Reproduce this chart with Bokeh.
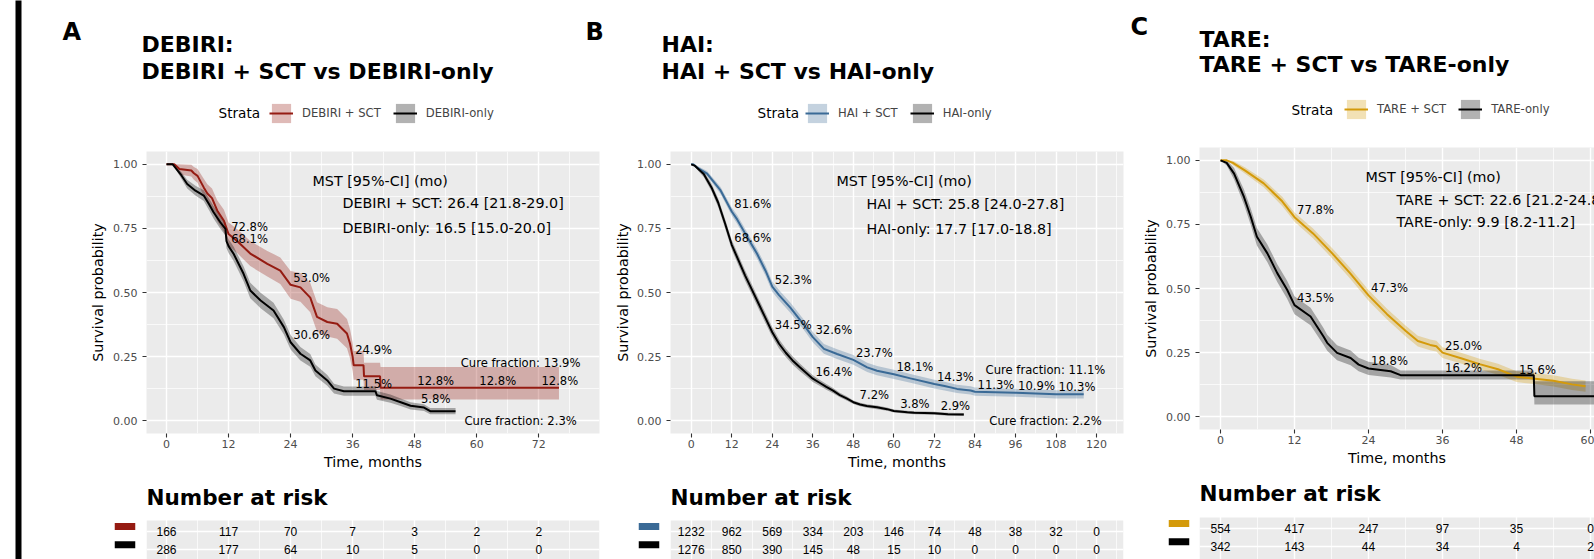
from bokeh.plotting import figure
from bokeh.layouts import row, column
from bokeh.models import (Range1d, FixedTicker, Label, Legend, LegendItem, BoxAnnotation,
                          ColumnDataSource, Grid, NumeralTickFormatter)
from bokeh.embed import file_html
from bokeh.resources import INLINE
from bokeh.core.properties import value

FONT = "DejaVu Sans"
TFONT = "Liberation Sans"
PANEL_BG = "#EBEBEB"
RED = "#951B12"
BLUE = "#3A6A96"
GOLD = "#D49A0A"
BLACK = "#000000"
PAGE_H = 559
HEAD_H = 140

Y_TICKS = [0.0, 0.25, 0.5, 0.75, 1.0]
Y_MINOR = [0.125, 0.375, 0.625, 0.875]

# ---------------- Panel A : DEBIRI ----------------
A_sct_t = [0, 1.5, 2.5, 4.8, 5.3, 6.0, 7.2, 7.9, 8.8, 9.8, 11.1, 12.0, 13.7, 16.2, 19.5, 22.0, 24.0, 25.9,
           27.8, 29.1, 31.1, 33.0, 34.9, 35.5, 36.0, 36.2, 38.1, 38.2, 41.3, 41.4, 75.9]
A_sct_s = [1.0, 1.0, 0.982, 0.976, 0.965, 0.955, 0.91, 0.886, 0.868, 0.82, 0.78, 0.728, 0.70, 0.652, 0.612,
           0.585, 0.53, 0.52, 0.48, 0.405, 0.385, 0.378, 0.34, 0.30, 0.249, 0.216, 0.216, 0.173, 0.173, 0.128, 0.128]
A_sct_lo = [1.0, 1.0, 0.96, 0.952, 0.94, 0.928, 0.876, 0.85, 0.83, 0.78, 0.737, 0.683, 0.653, 0.603, 0.562,
            0.533, 0.476, 0.464, 0.423, 0.348, 0.328, 0.32, 0.283, 0.243, 0.193, 0.16, 0.16, 0.12, 0.12, 0.083, 0.083]
A_sct_hi = [1.0, 1.0, 1.0, 0.998, 0.99, 0.982, 0.944, 0.922, 0.906, 0.86, 0.823, 0.773, 0.747, 0.701, 0.662,
            0.637, 0.584, 0.576, 0.537, 0.462, 0.442, 0.436, 0.397, 0.357, 0.305, 0.272, 0.272, 0.226, 0.226, 0.209, 0.209]
A_only_t = [0, 1.2, 2.7, 4.0, 5.6, 7.2, 8.2, 9.1, 10.4, 11.4, 11.6, 12.0, 13.0, 14.9, 16.2, 18.2, 20.7, 22.7,
            24.0, 25.9, 27.8, 28.8, 31.1, 32.4, 34.3, 40.4, 40.7, 43.3, 45.3, 47.2, 49.8, 51.0, 55.9]
A_only_s = [1.0, 1.0, 0.962, 0.923, 0.897, 0.878, 0.845, 0.813, 0.774, 0.748, 0.70, 0.681, 0.65, 0.573, 0.508,
            0.469, 0.43, 0.365, 0.306, 0.261, 0.235, 0.196, 0.157, 0.125, 0.115, 0.115, 0.099, 0.086, 0.072,
            0.058, 0.051, 0.037, 0.037]
A_only_lo = [1.0, 1.0, 0.95, 0.906, 0.878, 0.857, 0.822, 0.789, 0.749, 0.722, 0.673, 0.654, 0.622, 0.544, 0.478,
             0.439, 0.40, 0.336, 0.278, 0.235, 0.21, 0.173, 0.136, 0.106, 0.097, 0.097, 0.082, 0.07, 0.057,
             0.044, 0.038, 0.025, 0.025]
A_only_hi = [1.0, 1.0, 0.974, 0.94, 0.916, 0.899, 0.868, 0.837, 0.799, 0.774, 0.727, 0.708, 0.678, 0.602, 0.538,
             0.499, 0.46, 0.394, 0.334, 0.287, 0.26, 0.219, 0.178, 0.144, 0.133, 0.133, 0.116, 0.102, 0.087,
             0.072, 0.064, 0.049, 0.049]
A_lab_sct_t = [12, 24, 36, 48, 60, 72]
A_lab_sct_v = [0.728, 0.530, 0.249, 0.128, 0.128, 0.128]
A_lab_only_t = [12, 24, 36, 48]
A_lab_only_v = [0.681, 0.306, 0.115, 0.058]
A_cure = [0.139, 0.023]
A_risk_t = [0, 12, 24, 36, 48, 60, 72]
A_risk_sct = [166, 117, 70, 7, 3, 2, 2]
A_risk_only = [286, 177, 64, 10, 5, 0, 0]
A_mst = ["MST [95%-CI] (mo)", "DEBIRI + SCT: 26.4 [21.8-29.0]", "DEBIRI-only: 16.5 [15.0-20.0]"]

# ---------------- Panel B : HAI ----------------
B_sct_t = [0, 0.6, 2.0, 4.7, 8.7, 12.0, 13.6, 16.6, 19.5, 22.0, 24.0, 26.0, 29.4, 33.3, 36.0, 39.3, 43.2, 48.0,
           52.1, 55.0, 60.0, 64.9, 72.0, 75.0, 78.7, 82.7, 84.0, 90.0, 96.0, 102.0, 108.0, 116.2]
B_sct_s = [1.0, 1.0, 0.985, 0.964, 0.898, 0.816, 0.785, 0.716, 0.651, 0.585, 0.523, 0.49, 0.44, 0.375, 0.326,
           0.28, 0.26, 0.237, 0.208, 0.195, 0.181, 0.165, 0.143, 0.135, 0.124, 0.118, 0.113, 0.111, 0.109,
           0.106, 0.103, 0.103]
B_sct_lo = [1.0, 1.0, 0.978, 0.954, 0.884, 0.8, 0.768, 0.698, 0.632, 0.565, 0.503, 0.47, 0.42, 0.355, 0.306,
            0.261, 0.241, 0.218, 0.19, 0.177, 0.163, 0.148, 0.126, 0.118, 0.108, 0.102, 0.097, 0.095, 0.093,
            0.09, 0.087, 0.087]
B_sct_hi = [1.0, 1.0, 0.992, 0.974, 0.912, 0.832, 0.802, 0.734, 0.67, 0.605, 0.543, 0.51, 0.46, 0.395, 0.346,
            0.299, 0.279, 0.256, 0.226, 0.213, 0.199, 0.182, 0.16, 0.152, 0.14, 0.134, 0.129, 0.127, 0.125,
            0.122, 0.119, 0.119]
B_only_t = [0, 1.0, 3.7, 6.0, 8.0, 10.0, 12.0, 14.0, 16.0, 18.0, 20.0, 22.0, 24.0, 26.0, 28.0, 30.0, 32.0, 34.0,
            36.0, 38.0, 40.0, 42.0, 44.0, 46.0, 48.0, 50.0, 52.0, 55.0, 58.0, 60.0, 64.0, 66.0, 72.0, 76.0, 80.7]
B_only_s = [1.0, 0.995, 0.962, 0.91, 0.85, 0.77, 0.686, 0.625, 0.565, 0.51, 0.455, 0.40, 0.345, 0.30, 0.265,
            0.235, 0.21, 0.187, 0.164, 0.148, 0.132, 0.117, 0.10, 0.087, 0.072, 0.063, 0.057, 0.052, 0.045,
            0.038, 0.033, 0.031, 0.029, 0.025, 0.024]
B_only_lo = [1.0, 0.991, 0.951, 0.895, 0.833, 0.752, 0.667, 0.605, 0.545, 0.49, 0.435, 0.38, 0.326, 0.282, 0.248,
             0.219, 0.195, 0.173, 0.151, 0.136, 0.121, 0.107, 0.091, 0.079, 0.065, 0.056, 0.05, 0.045, 0.039,
             0.032, 0.027, 0.025, 0.023, 0.019, 0.018]
B_only_hi = [1.0, 0.999, 0.973, 0.925, 0.867, 0.788, 0.705, 0.645, 0.585, 0.53, 0.475, 0.42, 0.364, 0.318, 0.282,
             0.251, 0.225, 0.201, 0.177, 0.16, 0.143, 0.127, 0.109, 0.095, 0.079, 0.07, 0.064, 0.059, 0.051,
             0.044, 0.039, 0.037, 0.035, 0.031, 0.03]
B_lab_sct_t = [12, 24, 36, 48, 60, 72, 84, 96, 108]
B_lab_sct_v = [0.816, 0.523, 0.326, 0.237, 0.181, 0.143, 0.113, 0.109, 0.103]
B_lab_only_t = [12, 24, 36, 48, 60, 72]
B_lab_only_v = [0.686, 0.345, 0.164, 0.072, 0.038, 0.029]
B_cure = [0.111, 0.022]
B_risk_t = [0, 12, 24, 36, 48, 60, 72, 84, 96, 108, 120]
B_risk_sct = [1232, 962, 569, 334, 203, 146, 74, 48, 38, 32, 0]
B_risk_only = [1276, 850, 390, 145, 48, 15, 10, 0, 0, 0, 0]
B_mst = ["MST [95%-CI] (mo)", "HAI + SCT: 25.8 [24.0-27.8]", "HAI-only: 17.7 [17.0-18.8]"]

# ---------------- Panel C : TARE ----------------
C_sct_t = [0, 1.0, 2.0, 4.0, 7.0, 10.0, 12.0, 15.0, 18.0, 21.0, 24.0, 27.0, 30.0, 32.0, 34.0, 35.0, 36.0, 39.0,
           42.0, 45.0, 48.0, 51.0, 54.0, 57.0, 59.2]
C_sct_s = [1.0, 1.0, 0.99, 0.96, 0.91, 0.84, 0.778, 0.715, 0.64, 0.56, 0.473, 0.40, 0.335, 0.295, 0.28, 0.275,
           0.25, 0.228, 0.205, 0.185, 0.156, 0.148, 0.14, 0.126, 0.119]
C_sct_lo = [1.0, 1.0, 0.982, 0.948, 0.895, 0.822, 0.76, 0.696, 0.62, 0.539, 0.452, 0.379, 0.314, 0.274, 0.259,
            0.254, 0.229, 0.207, 0.184, 0.164, 0.135, 0.127, 0.118, 0.104, 0.097]
C_sct_hi = [1.0, 1.0, 0.998, 0.972, 0.925, 0.858, 0.796, 0.734, 0.66, 0.581, 0.494, 0.421, 0.356, 0.316, 0.301,
            0.296, 0.271, 0.249, 0.226, 0.206, 0.177, 0.169, 0.162, 0.148, 0.141]
C_only_t = [0, 1.0, 2.2, 3.8, 4.9, 5.9, 7.6, 9.2, 10.8, 12.0, 14.6, 15.7, 16.7, 17.3, 18.9, 21.1, 22.4, 24.0,
            27.6, 29.2, 50.8, 50.9, 67.2]
C_only_s = [1.0, 0.99, 0.948, 0.857, 0.78, 0.702, 0.637, 0.56, 0.495, 0.435, 0.391, 0.35, 0.313, 0.288, 0.249,
            0.229, 0.203, 0.188, 0.177, 0.162, 0.162, 0.08, 0.08]
C_only_lo = [1.0, 0.98, 0.925, 0.828, 0.748, 0.668, 0.602, 0.525, 0.46, 0.4, 0.357, 0.317, 0.281, 0.257, 0.22,
             0.201, 0.177, 0.163, 0.153, 0.145, 0.145, 0.048, 0.048]
C_only_hi = [1.0, 1.0, 0.97, 0.886, 0.812, 0.736, 0.672, 0.595, 0.53, 0.47, 0.425, 0.384, 0.346, 0.32, 0.279,
             0.258, 0.23, 0.214, 0.202, 0.18, 0.18, 0.138, 0.138]
C_lab_sct_t = [12, 24, 36, 48]
C_lab_sct_v = [0.778, 0.473, 0.250, 0.156]
C_lab_only_t = [12, 24, 36]
C_lab_only_v = [0.435, 0.188, 0.162]
C_risk_t = [0, 12, 24, 36, 48, 60]
C_risk_sct = [554, 417, 247, 97, 35, 0]
C_risk_only = [342, 143, 44, 34, 4, 2]
C_mst = ["MST [95%-CI] (mo)", "TARE + SCT: 22.6 [21.2-24.8]", "TARE-only: 9.9 [8.2-11.2]"]

ROW_PX = 18.3    # pixel height of one risk-table row
TAB_TOP_Y = 2.6  # risk-table panel spans y in [.., 2.6] (rows at 1 and 2)
BAR_SHIFT = 5    # colour keys sit slightly above the row text


def header(h):
    w = h["right"] - h["left"]
    f = figure(width=w, height=HEAD_H, x_range=Range1d(h["left"], h["right"]), y_range=Range1d(HEAD_H, 0),
               title=None, x_axis_type=None, y_axis_type=None, output_backend="svg",
               toolbar_location=None, min_border=0, background_fill_color="white",
               border_fill_color="white", outline_line_color=None)
    f.text(x=[h["letter_pos"][0]], y=[h["letter_pos"][1]], text=[h["letter"]], text_font=value(FONT),
           text_font_size="24px", text_font_style="bold", text_baseline="middle")
    f.text(x=[h["title_x"]] * 2, y=h["title_y"], text=h["title"], text_font=value(FONT),
           text_font_size="22px", text_font_style="bold", text_baseline="middle")
    f.text(x=[h["strata_x"]], y=[h["legend_cy"]], text=["Strata"], text_font=value(FONT),
           text_font_size="13.6px", text_baseline="middle")
    items = []
    hidden_x = [h["left"] - 50]   # legend-key renderers kept outside the visible range
    for name, color in zip(h["names"], h["colors"]):
        rib = f.varea(x=hidden_x, y1=[0], y2=[1], fill_color=color, fill_alpha=0.3)
        ln = f.line(x=hidden_x, y=[0], line_color=color, line_width=2)
        items.append(LegendItem(label=name, renderers=[rib, ln]))
    leg = Legend(items=items, orientation="horizontal",
                 location=(h["legend_x"] - h["left"], HEAD_H - (h["legend_cy"] + 12)),
                 glyph_width=24, glyph_height=24, label_height=24, label_standoff=9, spacing=12,
                 padding=0, margin=0, border_line_color=None, background_fill_alpha=0.0,
                 label_text_font=FONT, label_text_font_size="11.6px")
    f.add_layout(leg)
    return f


def body(c):
    col_w = c["col_right"] - c["col_left"]
    fl = c["frame_left"] - c["col_left"]
    fr = c["col_right"] - c["frame_right"]
    kh = c["km_bottom"] - HEAD_H
    xr = Range1d(c["x0"], c["x1"])
    p = figure(width=col_w, height=kh, x_range=xr, y_range=Range1d(-0.05, 1.05), title=None,
               output_backend="svg", toolbar_location=None,
               min_border_left=fl, min_border_right=fr,
               min_border_top=c["frame_top"] - HEAD_H, min_border_bottom=c["km_bottom"] - c["frame_bottom"],
               background_fill_color=PANEL_BG, border_fill_color="white", outline_line_color=None)
    p.xaxis.ticker = FixedTicker(ticks=c["xticks"], minor_ticks=c["xminor"])
    p.yaxis.ticker = FixedTicker(ticks=Y_TICKS, minor_ticks=Y_MINOR)
    p.yaxis.formatter = NumeralTickFormatter(format="0.00")
    p.xaxis.axis_label = "Time, months"
    p.yaxis.axis_label = "Survival probability"
    for ax in [p.xaxis[0], p.yaxis[0]]:
        ax.axis_line_color = None
        ax.major_tick_line_color = "#333333"
        ax.major_tick_line_width = 1.1
        ax.major_tick_out = 4
        ax.major_tick_in = 0
        ax.minor_tick_line_color = None
        ax.major_label_text_font = FONT
        ax.major_label_text_font_size = "11px"
        ax.major_label_text_color = "#4D4D4D"
        ax.axis_label_text_font = FONT
        ax.axis_label_text_font_size = "14.3px"
        ax.axis_label_text_font_style = "normal"
        ax.axis_label_text_color = "black"
    p.xaxis.major_label_standoff = 2
    p.xaxis.axis_label_standoff = 3
    p.yaxis.major_label_standoff = 5
    p.yaxis.axis_label_standoff = c["ylab_standoff"]
    for g in [p.xgrid[0], p.ygrid[0]]:
        g.grid_line_color = "white"
        g.grid_line_width = 1.4
        g.minor_grid_line_color = "white"
        g.minor_grid_line_width = 0.7

    srcs = []
    for s in c["strata"]:
        src = ColumnDataSource(dict(t=s["t"], s=s["s"], lo=s["lo"], hi=s["hi"]))
        p.varea(x="t", y1="lo", y2="hi", source=src, fill_color=s["color"], fill_alpha=0.3)
        srcs.append(src)
    for s, src in zip(c["strata"], srcs):
        p.line("t", "s", source=src, line_color=s["color"], line_width=2)
    for s in c["strata"]:
        p.text(x=s["lab_t"], y=s["lab_v"], text=[f"{v * 100:.1f}%" for v in s["lab_v"]],
               text_font=value(FONT), text_font_size="11.6px", text_color="black",
               text_align="center", text_baseline="middle", x_offset=21, y_offset=-7)
    if c.get("cure"):
        cu = c["cure"]
        p.text(x=[c["cure_x"], c["cure_x"]], y=[cu[0], 0.0],
               text=[f"Cure fraction: {cu[0] * 100:.1f}%", f"Cure fraction:  {cu[1] * 100:.1f}%"],
               text_font=value(FONT), text_font_size="11.6px", text_color="black",
               text_align="right", text_baseline="middle", y_offset=[-22.5, 0])
    fb = c["frame_bottom"]
    for txt, (px, py) in zip(c["mst"], c["mst_pos"]):
        p.add_layout(Label(x=px - c["frame_left"], y=fb - py, x_units="screen", y_units="screen", text=txt,
                           text_font=FONT, text_font_size="14.3px", text_color="black",
                           text_baseline="middle"))

    # ---- risk table: a white strip holding "Number at risk" above the grey table panel ----
    th = PAGE_H - c["km_bottom"]
    y_top = TAB_TOP_Y + (c["tab_top"] - c["km_bottom"]) / ROW_PX
    tr = Range1d(y_top - th / ROW_PX, y_top)
    tw = c["col_right"] - c["frame_left"]
    t = figure(width=tw, height=th, x_range=xr, y_range=tr, title=None,
               x_axis_type=None, y_axis_type=None,
               output_backend="svg", toolbar_location=None, min_border_left=0, min_border_right=fr,
               min_border_top=0, min_border_bottom=0, background_fill_color="white",
               border_fill_color="white", outline_line_color=None)
    t.add_layout(BoxAnnotation(top=TAB_TOP_Y, fill_color=PANEL_BG, fill_alpha=1.0, line_color=None,
                               level="image"))
    t.add_layout(Grid(dimension=0, ticker=FixedTicker(ticks=c["xticks"], minor_ticks=c["xminor"]),
                      grid_line_color="white", grid_line_width=1.4,
                      minor_grid_line_color="white", minor_grid_line_width=0.7))
    t.add_layout(Grid(dimension=1, ticker=FixedTicker(ticks=[1, 2]),
                      grid_line_color="white", grid_line_width=1.4))
    n = len(c["risk_t"])
    for yv, vals in [(2, c["risk_sct"]), (1, c["risk_only"])]:
        t.text(x=c["risk_t"], y=[yv] * n, text=[str(v) for v in vals], text_font=value(TFONT),
               text_font_size="12px", text_color="black", text_align="center", text_baseline="middle")
    t.text(x=[c["x0"]], y=[TAB_TOP_Y + (c["tab_top"] - c["nar_y"]) / ROW_PX], text=["Number at risk"],
           text_font=value(FONT), text_font_size="21.5px", text_font_style="bold", text_color="black",
           text_align="left", text_baseline="middle")

    # colour keys of the table rows, drawn a few pixels above the row centres
    shift = BAR_SHIFT / ROW_PX
    b = figure(width=fl, height=th, x_range=Range1d(0, 1),
               y_range=Range1d(y_top - shift - th / ROW_PX, y_top - shift),
               title=None, x_axis_type=None, y_axis_type=None, output_backend="svg", toolbar_location=None,
               min_border_left=c["bar_l"] - c["col_left"], min_border_right=c["frame_left"] - c["bar_r"],
               min_border_top=0, min_border_bottom=0,
               background_fill_color="white", border_fill_color="white", outline_line_color=None)
    b.rect(x=[0.5, 0.5], y=[2, 1], width=1, height=7, height_units="screen",
           fill_color=[c["strata"][0]["color"], BLACK], line_color=None)
    return column(p, row(b, t, spacing=0), spacing=0)


def strata(name, color, tt, ss, lo, hi, lt, lv):
    return dict(name=name, color=color, t=tt, s=ss, lo=lo, hi=hi, lab_t=lt, lab_v=lv)


hA = dict(left=22, right=583, letter="A", letter_pos=(62, 31.5), title=["DEBIRI:", "DEBIRI + SCT vs DEBIRI-only"],
          title_x=141, title_y=[44, 70.8], strata_x=218, legend_x=269, legend_cy=112.5,
          names=["DEBIRI + SCT", "DEBIRI-only"], colors=[RED, BLACK])
hB = dict(left=583, right=1125, letter="B", letter_pos=(585, 31), title=["HAI:", "HAI + SCT vs HAI-only"],
          title_x=661, title_y=[44.3, 71.3], strata_x=757, legend_x=805, legend_cy=112.5,
          names=["HAI + SCT", "HAI-only"], colors=[BLUE, BLACK])
hC = dict(left=1125, right=1594, letter="C", letter_pos=(1130, 26), title=["TARE:", "TARE + SCT vs TARE-only"],
          title_x=1199, title_y=[39.2, 63.5], strata_x=1291, legend_x=1344, legend_cy=109,
          names=["TARE + SCT", "TARE-only"], colors=[GOLD, BLACK])

cfgA = dict(col_left=22, col_right=605, frame_left=146, frame_right=599, km_bottom=476, frame_top=151,
            frame_bottom=433, x0=-3.87, x1=83.74, xticks=[0, 12, 24, 36, 48, 60, 72],
            xminor=[6, 18, 30, 42, 54, 66, 78], ylab_standoff=4,
            strata=[strata("DEBIRI + SCT", RED, A_sct_t, A_sct_s, A_sct_lo, A_sct_hi, A_lab_sct_t, A_lab_sct_v),
                    strata("DEBIRI-only", BLACK, A_only_t, A_only_s, A_only_lo, A_only_hi, A_lab_only_t, A_lab_only_v)],
            cure=A_cure, cure_x=80.06, mst=A_mst, mst_pos=[(312, 180.7), (342, 202.5), (342, 227.3)],
            tab_top=520, nar_y=496.5, bar_l=114, bar_r=135,
            risk_t=A_risk_t, risk_sct=A_risk_sct, risk_only=A_risk_only)

cfgB = dict(col_left=605, col_right=1128, frame_left=670, frame_right=1123, km_bottom=476, frame_top=151,
            frame_bottom=433, x0=-6.13, x1=127.98, xticks=[0, 12, 24, 36, 48, 60, 72, 84, 96, 108, 120],
            xminor=[6, 18, 30, 42, 54, 66, 78, 90, 102, 114, 126], ylab_standoff=3,
            strata=[strata("HAI + SCT", BLUE, B_sct_t, B_sct_s, B_sct_lo, B_sct_hi, B_lab_sct_t, B_lab_sct_v),
                    strata("HAI-only", BLACK, B_only_t, B_only_s, B_only_lo, B_only_hi, B_lab_only_t, B_lab_only_v)],
            cure=B_cure, cure_x=122.6, mst=B_mst, mst_pos=[(836, 180.7), (866, 203.3), (866, 228.3)],
            tab_top=520, nar_y=496.5, bar_l=638, bar_r=659,
            risk_t=B_risk_t, risk_sct=B_risk_sct, risk_only=B_risk_only)

cfgC = dict(col_left=1128, col_right=1594, frame_left=1199, frame_right=1594, km_bottom=472, frame_top=147,
            frame_bottom=429, x0=-3.41, x1=60.65, xticks=[0, 12, 24, 36, 48, 60],
            xminor=[6, 18, 30, 42, 54, 66], ylab_standoff=4,
            strata=[strata("TARE + SCT", GOLD, C_sct_t, C_sct_s, C_sct_lo, C_sct_hi, C_lab_sct_t, C_lab_sct_v),
                    strata("TARE-only", BLACK, C_only_t, C_only_s, C_only_lo, C_only_hi, C_lab_only_t, C_lab_only_v)],
            cure=None, mst=C_mst, mst_pos=[(1365, 176), (1396, 199), (1396, 221.7)],
            tab_top=517, nar_y=493, bar_l=1168, bar_r=1189,
            risk_t=C_risk_t, risk_sct=C_risk_sct, risk_only=C_risk_only)

bar = figure(width=22, height=PAGE_H, title=None, x_axis_type=None, y_axis_type=None, output_backend="svg",
             toolbar_location=None, min_border_left=15, min_border_right=1, min_border_top=0,
             min_border_bottom=0, background_fill_color="black", border_fill_color="white",
             outline_line_color=None)

layout = row(bar,
             column(row(header(hA), header(hB), header(hC), spacing=0),
                    row(body(cfgA), body(cfgB), body(cfgC), spacing=0), spacing=0),
             spacing=0)

open("out.html", "w").write(file_html(layout, INLINE))
